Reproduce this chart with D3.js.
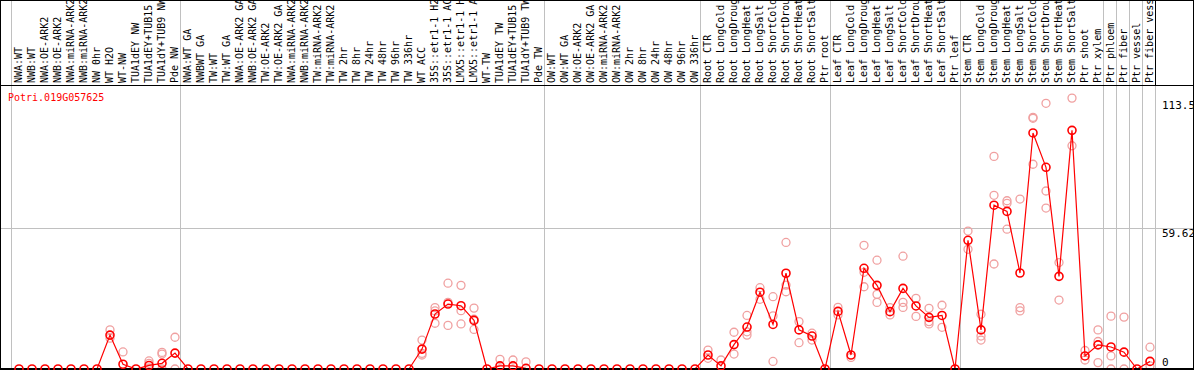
<!DOCTYPE html>
<html>
<head>
<meta charset="utf-8">
<script src="https://cdn.jsdelivr.net/npm/d3@7"></script>
<style>
  html, body { margin: 0; padding: 0; background: #fff; }
  svg { display: block; }
  text { font-family: "DejaVu Sans Mono", monospace; }
</style>
</head>
<body>
<svg id="chart" width="1194" height="370"></svg>
<script>
const geneName = 'Potri.019G057625';

const samples = [
    'NWA:WT', 'NWB:WT', 'NWA:OE-ARK2', 'NWB:OE-ARK2', 'NWA:miRNA-ARK2', 'NWB:miRNA-ARK2', 'NW 0hr',
    'WT H2O', 'WT-NW', 'TUA1dEY NW', 'TUA1dEY+TUB15', 'TUA1dY+TUB9 NW', 'Pde NW',
    'NWA:WT GA', 'NWBWT GA', 'TW:WT', 'TW:WT GA', 'NWA:OE-ARK2 GA', 'NWB:OE-ARK2 GA', 'TW:OE-ARK2',
    'TW:OE-ARK2 GA', 'NWA:miRNA-ARK2', 'NWB:miRNA-ARK2', 'TW:miRNA-ARK2', 'TW:miRNA-ARK2', 'TW 2hr',
    'TW 8hr', 'TW 24hr', 'TW 48hr', 'TW 96hr', 'TW 336hr', 'WT ACC', '35S::etr1-1 H2', '35S::etr1-1 AC',
    'LMX5::etr1-1 H', 'LMX5::etr1-1 A', 'WT-TW', 'TUA1dEY TW', 'TUA1dEY+TUB15', 'TUA1dY+TUB9 TW', 'Pde TW',
    'OW:WT', 'OW:WT GA', 'OW:OE-ARK2', 'OW:OE-ARK2 GA', 'OW:miRNA-ARK2', 'OW:miRNA-ARK2', 'OW 2hr',
    'OW 8hr', 'OW 24hr', 'OW 48hr', 'OW 96hr', 'OW 336hr',
    'Root CTR', 'Root LongCold', 'Root LongDroug', 'Root LongHeat', 'Root LongSalt', 'Root ShortCold',
    'Root ShortDrou', 'Root ShortHeat', 'Root ShortSalt', 'Ptr root',
    'Leaf CTR', 'Leaf LongCold', 'Leaf LongDroug', 'Leaf LongHeat', 'Leaf LongSalt', 'Leaf ShortCold',
    'Leaf ShortDrou', 'Leaf ShortHeat', 'Leaf ShortSalt', 'Ptr leaf',
    'Stem CTR', 'Stem LongCold', 'Stem LongDroug', 'Stem LongHeat', 'Stem LongSalt', 'Stem ShortCold',
    'Stem ShortDrou', 'Stem ShortHeat', 'Stem ShortSalt', 'Ptr shoot', 'Ptr xylem',
    'Ptr phloem', 'Ptr fiber', 'Ptr vessel', 'Ptr fiber vess'
];

// first sample index of each group (last entry = end)
const groupStarts = [0, 13, 41, 53, 63, 73, 84, 85, 86, 87, 88];

const meanValues = [
    0, 0, 0, 0, 0, 0, 0, 14.3, 2.0, 0, 1.5, 2.4, 6.7,
    0, 0, 0, 0, 0, 0, 0, 0, 0, 0, 0, 0, 0, 0, 0, 0, 0, 0,
    8.4, 23.2, 27.4, 26.7, 20.5, 0, 1.3, 1.3, 0.3, 0,
    0, 0, 0, 0, 0, 0, 0, 0, 0, 0, 0, 0,
    5.9, 1.3, 10.3, 17.7, 32.4, 18.8, 40.4, 16.5, 13.9, 0,
    24.3, 5.9, 42.5, 35.3, 24.2, 34.0, 26.6, 21.8, 22.6, 0,
    54.3, 16.5, 69.1, 66.5, 40.5, 99.6, 85.1, 39.1, 100.7, 5.5, 10.2,
    9.3, 7.1, 0, 3.2
];

const replicates = [
    [], [], [], [], [], [], [], [16.5, 13], [7.2], [], [3.4, 2.4, 0.5], [7, 6.3, 0], [13.4, 0],
    [], [], [], [], [], [], [], [], [], [], [], [], [], [], [], [], [], [],
    [12.2, 5.9, 6.6], [25.9, 24.5, 19.3], [36.2, 28.1, 18.4], [35.3, 24.6, 19], [25.7, 16.7, 21],
    [], [4.1, 0], [3.8], [3.0], [],
    [], [], [], [], [], [], [], [], [], [], [], [],
    [8.0, 4.5], [3.8], [15.5, 6.3], [22.6, 14.3, 15.7], [34.3, 29.4], [30.5, 22.4, 3.2],
    [53.4, 35.4, 32.6], [20, 11.1], [15.1, 12.2], [],
    [26, 22.8], [4.9], [52.2, 40.8, 34.7], [45.9, 31.5, 28.1], [25.9, 22.8], [47.6, 28.1, 26.0],
    [29.8, 22.2], [25.6, 20.0, 19], [26.9, 17.6], [],
    [58.2, 50.5], [23.1, 13.9, 12.2], [89.7, 73.3, 44.3], [71, 69.9, 59], [71.7, 25.9, 24.5],
    [106.2, 105.8, 86.4], [112.1, 75.1, 67.9], [44.9, 29.1], [114.3, 94.2], [7.8, 3.8], [16.5, 11.6, 2.7],
    [22.3, 5.5, 0], [21.9, 0], [], [9.2, 1.3]
];

const yTicks = [0, 59.62, 113.5];

document.addEventListener('DOMContentLoaded', () => {
    const svg = d3.select('#chart');
    const W = 1194, H = 370;
    const headerH = 85;
    const gridColor = '#c0c0c0';

    const xScale = d3.scaleLinear().domain([0, samples.length - 1]).range([19, 1150]);
    const yScale = d3.scaleLinear().domain([0, 113.5]).range([369, 100]);
    const sepX = i => Math.round(xScale(i) - 8) + 0.5;

    // group separators
    svg.append('g')
        .selectAll('line')
        .data(groupStarts)
        .join('line')
        .attr('x1', sepX).attr('x2', sepX)
        .attr('y1', 0).attr('y2', H)
        .attr('stroke', gridColor);

    // y gridline
    svg.append('line')
        .attr('x1', 0).attr('x2', W)
        .attr('y1', Math.round(yScale(59.62)) + 0.5)
        .attr('y2', Math.round(yScale(59.62)) + 0.5)
        .attr('stroke', gridColor);

    // header
    svg.append('line')
        .attr('x1', 0).attr('x2', W)
        .attr('y1', headerH + 0.5).attr('y2', headerH + 0.5)
        .attr('stroke', '#000');
    svg.append('line')
        .attr('x1', sepX(88)).attr('x2', sepX(88))
        .attr('y1', 0).attr('y2', headerH)
        .attr('stroke', '#000');

    svg.append('g')
        .selectAll('text')
        .data(samples)
        .join('text')
        .attr('transform', (d, i) => `translate(${xScale(i) + 3},83) rotate(-90)`)
        .attr('font-size', 10)
        .attr('fill', '#000')
        .text(d => d);

    svg.append('text')
        .attr('x', 8)
        .attr('y', 101)
        .attr('font-size', 10)
        .attr('fill', '#ff0000')
        .text(geneName);

    // replicate points
    const reps = [];
    replicates.forEach((arr, i) => arr.forEach(v => reps.push({ i, v })));
    svg.append('g')
        .selectAll('circle')
        .data(reps)
        .join('circle')
        .attr('cx', d => xScale(d.i))
        .attr('cy', d => yScale(d.v))
        .attr('r', 4)
        .attr('fill', 'none')
        .attr('stroke', '#f0a0a0')
        .attr('stroke-width', 1.3);

    // mean line
    const line = d3.line()
        .x((d, i) => xScale(i))
        .y(d => yScale(d));
    svg.append('path')
        .datum(meanValues)
        .attr('fill', 'none')
        .attr('stroke', '#ff0000')
        .attr('stroke-width', 1.2)
        .attr('d', line);

    // frame
    svg.append('line')
        .attr('x1', 0.5).attr('x2', 0.5).attr('y1', 0).attr('y2', H)
        .attr('stroke', '#000');
    svg.append('line')
        .attr('x1', W - 0.5).attr('x2', W - 0.5).attr('y1', 0).attr('y2', H)
        .attr('stroke', '#000');
    svg.append('line')
        .attr('x1', 0).attr('x2', W).attr('y1', 0.5).attr('y2', 0.5)
        .attr('stroke', '#000');
    svg.append('line')
        .attr('x1', 0).attr('x2', W).attr('y1', 369).attr('y2', 369)
        .attr('stroke', '#000')
        .attr('stroke-width', 2);

    // mean markers
    svg.append('g')
        .selectAll('circle')
        .data(meanValues)
        .join('circle')
        .attr('cx', (d, i) => xScale(i))
        .attr('cy', d => yScale(d))
        .attr('r', 4)
        .attr('fill', 'none')
        .attr('stroke', '#ff0000')
        .attr('stroke-width', 1.6);

    // y axis labels
    const yAxis = svg.append('g')
        .attr('transform', 'translate(1162,0)')
        .call(d3.axisRight(yScale).tickValues(yTicks).tickSize(0).tickPadding(0).tickFormat(d => String(d)));
    yAxis.select('.domain').remove();
    yAxis.selectAll('text')
        .attr('font-family', '"DejaVu Sans Mono", monospace')
        .attr('font-size', 11)
        .attr('fill', '#000')
        .attr('dy', d => d === 0 ? '-0.3em' : '0.8em');
});
</script>
</body>
</html>
